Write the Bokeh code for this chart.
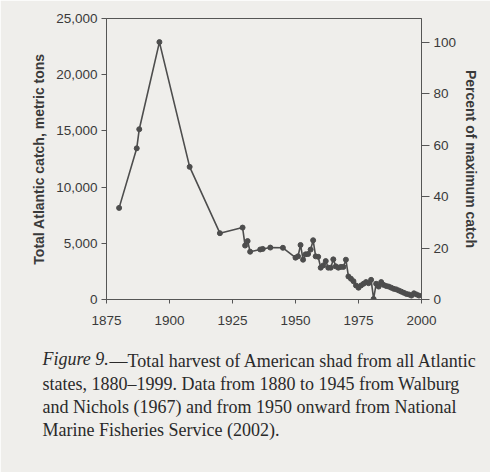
from bokeh.plotting import figure
from bokeh.models import Range1d, LinearAxis, FixedTicker, NumeralTickFormatter, Title
from bokeh.embed import file_html
from bokeh.resources import INLINE

# ---- data ----
years = [1880, 1887, 1888, 1896, 1908, 1920, 1929, 1930, 1931, 1932, 1936, 1937, 1940, 1945,
         1950, 1951, 1952, 1953, 1954, 1955, 1956, 1957, 1958, 1959,
         1960, 1961, 1962, 1963, 1964, 1965, 1966, 1967, 1968, 1969,
         1970, 1971, 1972, 1973, 1974, 1975, 1976, 1977, 1978, 1979,
         1980, 1981, 1982, 1983, 1984, 1985, 1986, 1987, 1988, 1989,
         1990, 1991, 1992, 1993, 1994, 1995, 1996, 1997, 1998, 1999]
catch = [8150, 13450, 15150, 22900, 11800, 5900, 6400, 4800, 5200, 4250, 4450, 4500, 4620, 4600,
         3720, 3840, 4850, 3540, 4020, 4050, 4440, 5270, 3840, 3800,
         2830, 3035, 3420, 2830, 2830, 3570, 2950, 2830, 2900, 2900,
         3540, 2050, 1850, 1630, 1250, 1050, 1250, 1400, 1550, 1450,
         1750, 50, 1400, 1150, 1550, 1300, 1200, 1150, 1050, 950,
         900, 800, 700, 600, 500, 450, 350, 550, 450, 350]
x_ticks = [1875, 1900, 1925, 1950, 1975, 2000]
y_ticks = [0, 5000, 10000, 15000, 20000, 25000]
pct_ticks = [0, 20, 40, 60, 80, 100]
y_title = "Total Atlantic catch, metric tons"
pct_title = "Percent of maximum catch"
fig_label = "Figure 9."
caption_lines = [
    "\u2014Total harvest of American shad from all Atlantic",
    "states, 1880\u20131999. Data from 1880 to 1945 from Walburg",
    "and Nichols (1967) and from 1950 onward from National",
    "Marine Fisheries Service (2002).",
]

paper = "#efeeeb"
ink = "#3a3a3a"
line_col = "#4d4d4d"
sans = "Liberation Sans"
serif = "Liberation Serif"

max_catch = max(catch)

W, H = 490, 472
FL, FR, FT, FB = 106, 421, 18, 299   # frame edges in page pixels

p = figure(width=W, height=H, output_backend="svg", toolbar_location=None,
           x_range=Range1d(x_ticks[0], x_ticks[-1]), y_range=Range1d(y_ticks[0], y_ticks[-1]),
           min_border_left=FL, min_border_right=W - FR, min_border_top=FT, min_border_bottom=H - FB)
p.extra_y_ranges = {"pct": Range1d(0, y_ticks[-1] / max_catch * 100)}

p.background_fill_color = paper
p.border_fill_color = paper
p.outline_line_color = "#555555"
p.outline_line_width = 1
p.grid.visible = False

p.line(years, catch, line_color=line_col, line_width=1.6)
p.scatter(years, catch, size=5, fill_color=line_col, line_color=line_col)

# bottom axis
xa = p.xaxis[0]
xa.ticker = FixedTicker(ticks=x_ticks)
xa.major_tick_out = 4
xa.major_tick_in = 0
xa.minor_tick_line_color = None
xa.major_label_standoff = 12
# left axis
ya = p.yaxis[0]
ya.ticker = FixedTicker(ticks=y_ticks)
ya.formatter = NumeralTickFormatter(format="0,0")
ya.major_tick_out = 5
ya.major_tick_in = 0
ya.minor_tick_line_color = None
ya.major_label_standoff = 4
ya.axis_label = y_title
ya.axis_label_standoff = 6

ra = LinearAxis(y_range_name="pct", ticker=FixedTicker(ticks=pct_ticks), axis_label=pct_title)
ra.major_tick_out = 8
ra.major_tick_in = 0
ra.minor_tick_line_color = None
ra.major_label_standoff = 4
ra.axis_label_standoff = 4
p.add_layout(ra, "right")

for ax in [xa, ya, ra]:
    ax.axis_line_color = "#555555"
    ax.major_tick_line_color = "#555555"
    ax.major_label_text_font = sans
    ax.major_label_text_font_size = "13.5px"
    ax.major_label_text_color = ink
    ax.axis_label_text_font = sans
    ax.axis_label_text_font_size = "14px"
    ax.axis_label_text_font_style = "bold"
    ax.axis_label_text_color = ink

# ---- caption: titles stacked below the x axis ----
cap_left = 42 - FL
# small spacer between the axis and the caption
p.add_layout(Title(text=" ", text_font_size="1px", standoff=18, text_color=paper), "below")
for i, t in enumerate(caption_lines):
    p.add_layout(Title(text=t, align="left", offset=(cap_left + 67 if i == 0 else cap_left),
                       standoff=1, text_font=serif, text_font_size="18px",
                       text_font_style="normal", text_color="#2a2a2a"), "below")
# italic figure number sharing the first caption row
p.add_layout(Title(text=fig_label, align="left", offset=cap_left, standoff=-184,
                   vertical_align="top", text_font=serif, text_font_size="18px",
                   text_font_style="italic", text_color="#2a2a2a"), "below")

open("out.html", "w").write(file_html(p, INLINE))
